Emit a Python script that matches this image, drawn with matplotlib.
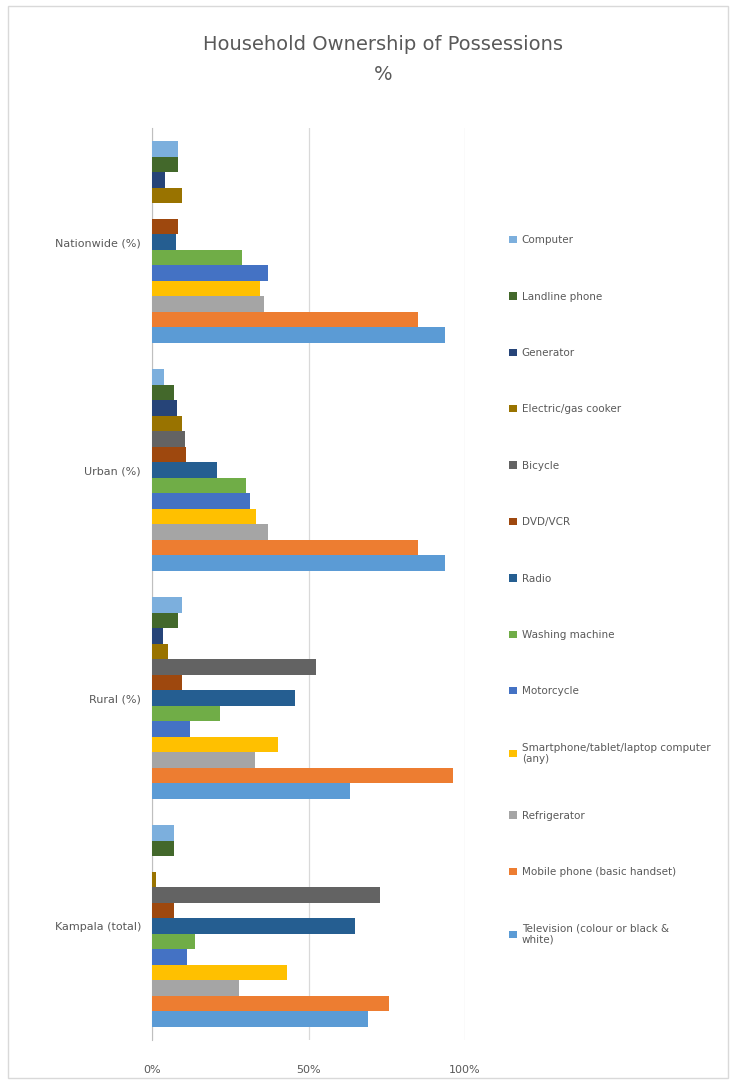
import matplotlib
matplotlib.use("Agg")
import matplotlib.pyplot as plt
import numpy as np
from matplotlib.patches import Rectangle
from matplotlib.ticker import PercentFormatter

# Categories, listed top to bottom as drawn
categories = ["Nationwide (%)", "Urban (%)", "Rural (%)", "Kampala (total)"]

# Series (Excel order: series 1 is the bottom bar of each group)
series_names = [
    "Television (colour or black &\nwhite)",
    "Mobile phone (basic handset)",
    "Refrigerator",
    "Smartphone/tablet/laptop computer\n(any)",
    "Motorcycle",
    "Washing machine",
    "Radio",
    "DVD/VCR",
    "Bicycle",
    "Electric/gas cooker",
    "Generator",
    "Landline phone",
    "Computer",
]
series_colors = [
    "#5B9BD5", "#ED7D31", "#A5A5A5", "#FFC000", "#4472C4", "#70AD47",
    "#255E91", "#9E480E", "#636363", "#997300", "#264478", "#43682B", "#7CAFDD",
]

# Values in %, one list per series, in the category order above
tv          = [93.6, 93.6, 63.3, 69.0]
mobile      = [85.0, 85.0, 96.2, 75.7]
fridge      = [35.8, 37.0, 32.9, 27.8]
smartphone  = [34.5, 33.2, 40.3, 43.1]
motorcycle  = [37.0, 31.3, 12.1, 11.2]
washing     = [28.8, 30.0, 21.7, 13.7]
radio       = [7.7, 20.8, 45.7, 64.9]
dvd         = [8.3, 10.9, 9.6, 7.0]
bicycle     = [0.0, 10.5, 52.4, 72.8]
cooker      = [9.6, 9.6, 5.0, 1.3]
generator   = [4.0, 8.0, 3.5, 0.0]
landline    = [8.3, 7.0, 8.3, 7.0]
computer    = [8.3, 3.8, 9.6, 7.0]

values = [tv, mobile, fridge, smartphone, motorcycle, washing, radio,
          dvd, bicycle, cooker, generator, landline, computer]

W, H = 730, 1084
fig = plt.figure(figsize=(W / 100, H / 100), dpi=100)
fig.patch.set_facecolor("white")

# chart border
fig.add_artist(Rectangle((8 / W, 6 / H), 720 / W, 1072 / H, transform=fig.transFigure,
                         fill=False, edgecolor="#D9D9D9", linewidth=1.0))

ax = fig.add_axes([152 / W, 1 - 1040 / H, (465 - 152) / W, (1040 - 128) / H])

n_s = len(values)
n_c = len(categories)
group = 0.885
bh = group / n_s
centers = np.arange(n_c)  # 0 = top after inversion
for i, (name, col, vals) in enumerate(zip(series_names, series_colors, values)):
    # series 1 at bottom of each group -> larger y (axis inverted)
    offs = (n_s - 1) / 2 - i
    ax.barh(centers + offs * bh, np.array(vals) / 100.0, height=bh * 0.99,
            color=col, label=name, zorder=3)

ax.set_ylim(n_c - 0.5, -0.5)
ax.set_yticks(centers)
ax.set_yticklabels(categories, fontsize=8, color="#595959")
ax.set_xlim(0, 1.0)
ax.set_xticks([0, 0.5, 1.0])
ax.xaxis.set_major_formatter(PercentFormatter(1.0, decimals=0))
ax.tick_params(axis="x", labelsize=8, colors="#595959", length=0, pad=18)
ax.tick_params(axis="y", length=0, pad=8)
ax.grid(axis="x", color="#D9D9D9", linewidth=0.9, zorder=0)
for s in ["top", "right", "bottom"]:
    ax.spines[s].set_visible(False)
ax.spines["left"].set_color("#BFBFBF")

fig.text(383 / W, 1 - 45 / H, "Household Ownership of Possessions", ha="center",
         va="center", fontsize=14, color="#595959")
fig.text(383 / W, 1 - 75 / H, "%", ha="center", va="center", fontsize=14, color="#595959")

handles, labels = ax.get_legend_handles_labels()
leg = fig.legend(handles[::-1], labels[::-1], loc="upper left",
                 bbox_to_anchor=(500 / W, 1 - 226 / H), frameon=False,
                 fontsize=7.5, labelcolor="#595959", handlelength=0.7,
                 handleheight=0.7, handletextpad=0.5, labelspacing=4.45)

fig.savefig("out.png", dpi=100, facecolor="white")
